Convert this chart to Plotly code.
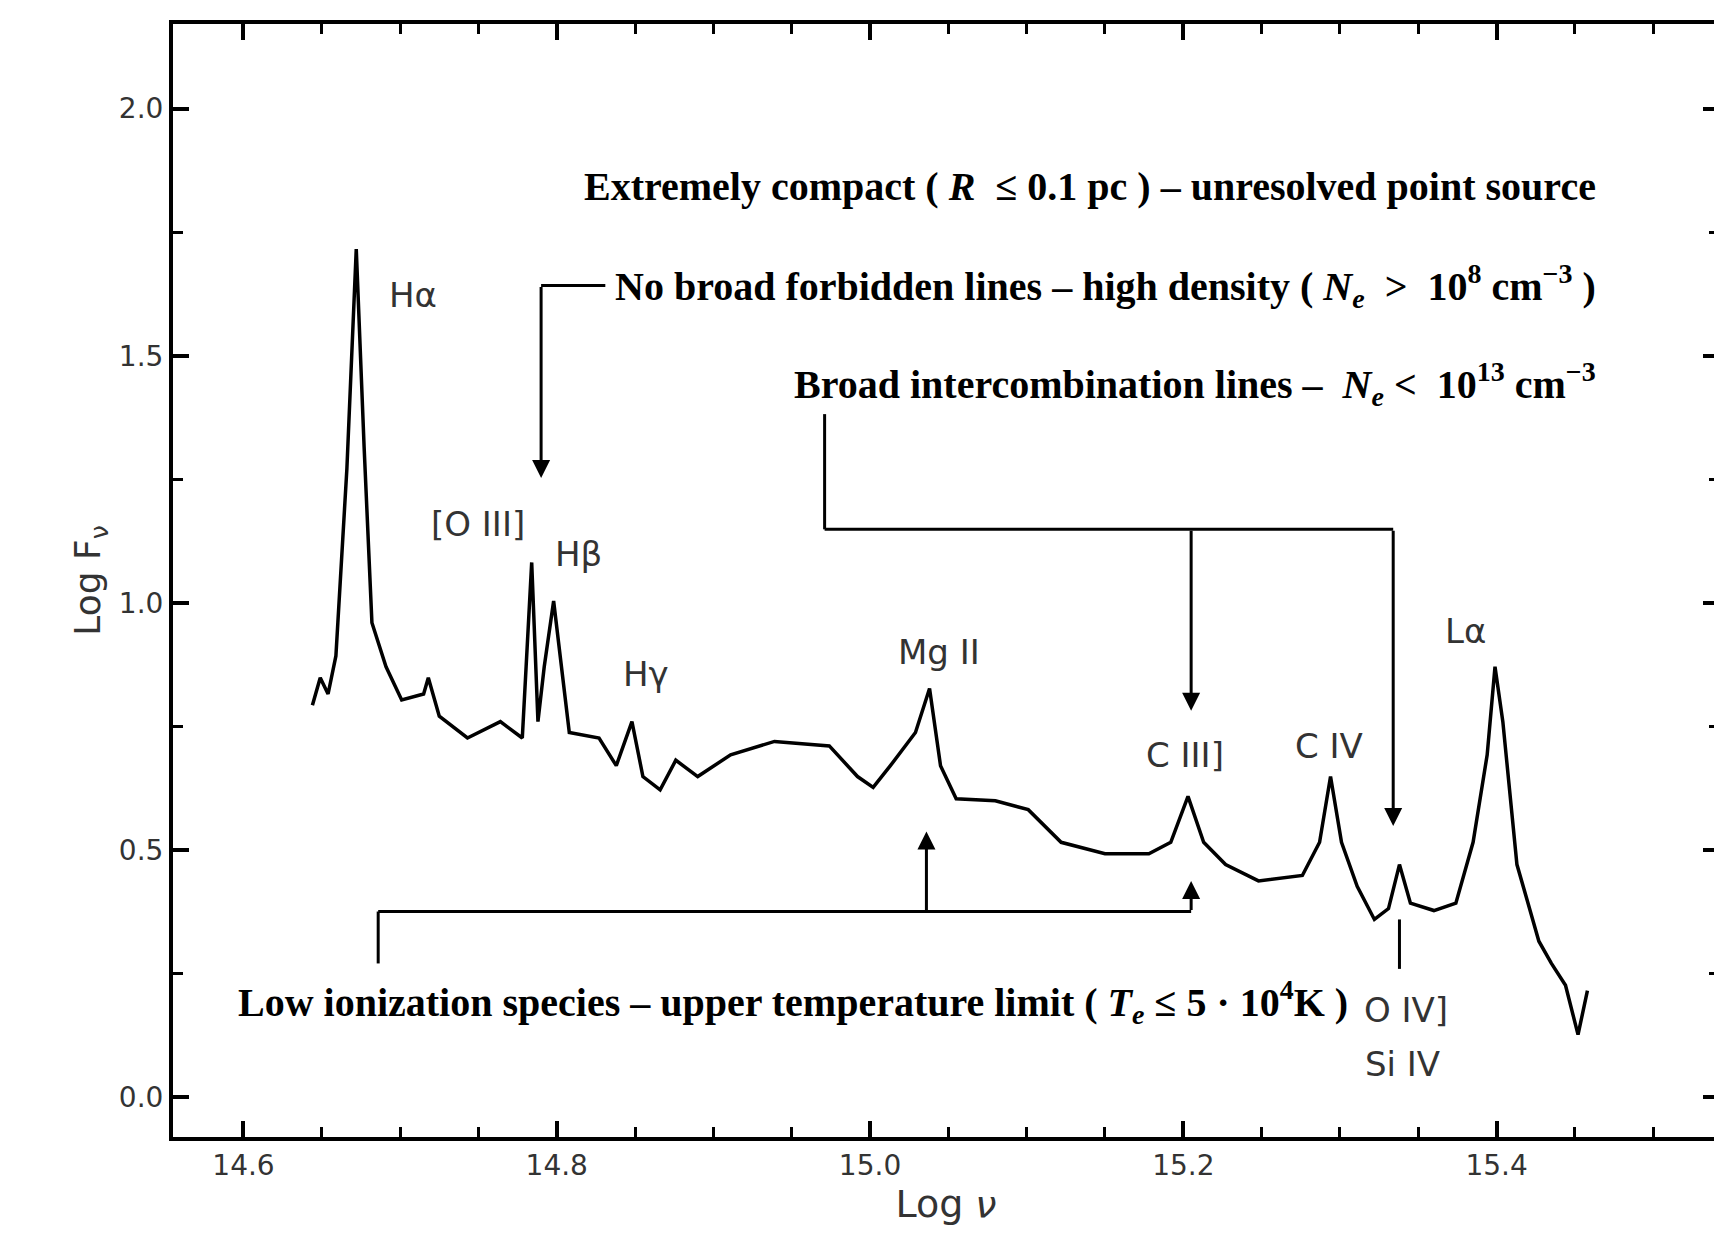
import plotly.graph_objects as go

# spectrum
log_nu = [14.644, 14.649, 14.654, 14.659, 14.666, 14.672, 14.677, 14.682, 14.691, 14.701,
          14.715, 14.718, 14.725, 14.743, 14.764, 14.778, 14.784, 14.788, 14.792, 14.798,
          14.803, 14.808, 14.827, 14.838, 14.848, 14.855, 14.866, 14.876, 14.89, 14.911,
          14.939, 14.974, 14.992, 15.002, 15.013, 15.029, 15.038, 15.045, 15.055, 15.08,
          15.101, 15.122, 15.15, 15.178, 15.192, 15.203, 15.213, 15.227, 15.248, 15.276,
          15.287, 15.294, 15.301, 15.311, 15.322, 15.331, 15.338, 15.345, 15.36, 15.374,
          15.385, 15.394, 15.399, 15.404, 15.413, 15.427, 15.435, 15.444, 15.452, 15.458]
log_f = [0.793, 0.849, 0.816, 0.893, 1.271, 1.716, 1.316, 0.96, 0.871, 0.804,
         0.816, 0.849, 0.771, 0.727, 0.76, 0.727, 1.082, 0.76, 0.871, 1.004,
         0.871, 0.738, 0.727, 0.671, 0.76, 0.649, 0.622, 0.682, 0.649, 0.693,
         0.72, 0.711, 0.649, 0.627, 0.671, 0.738, 0.827, 0.671, 0.604, 0.6,
         0.582, 0.516, 0.493, 0.493, 0.516, 0.609, 0.516, 0.471, 0.438, 0.449,
         0.516, 0.649, 0.516, 0.427, 0.36, 0.382, 0.471, 0.393, 0.378, 0.393,
         0.516, 0.693, 0.871, 0.76, 0.471, 0.316, 0.271, 0.227, 0.127, 0.216]

line_labels = ["Hα", "[O III]", "Hβ", "Hγ", "Mg II", "C III]", "C IV", "Lα", "O IV]", "Si IV"]
label_x = [14.708, 14.75, 14.814, 14.857, 15.044, 15.201, 15.293, 15.38, 15.342, 15.34]
label_y = [1.622, 1.16, 1.1, 0.856, 0.9, 0.693, 0.711, 0.944, 0.176, 0.067]

serif = dict(family="Liberation Serif", size=40, color="black")
sans = dict(family="DejaVu Sans", size=34, color="#333")

fig = go.Figure(go.Scatter(x=log_nu, y=log_f, mode="lines",
                           line=dict(color="black", width=3.5), showlegend=False))

for t, x, y in zip(line_labels, label_x, label_y):
    fig.add_annotation(x=x, y=y, text=t, showarrow=False, font=sans)

notes = [
    (15.465, 1.842, "right", "<b>Extremely compact ( <i>R</i>  ≤ 0.1 pc ) – unresolved point source</b>"),
    (15.465, 1.642, "right", "<b>No broad forbidden lines – high density ( <i>N<sub>e</sub></i>  >  10<sup>8</sup> cm<sup>−3</sup> )</b>"),
    (15.465, 1.442, "right", "<b>Broad intercombination lines –  <i>N<sub>e</sub></i> <  10<sup>13</sup> cm<sup>−3</sup></b>"),
    (14.595, 0.193, "left", "<b>Low ionization species – upper temperature limit ( <i>T<sub>e</sub></i> ≤ 5 · 10<sup>4</sup>K )</b>"),
]
for x, y, a, t in notes:
    fig.add_annotation(x=x, y=y, text=t, xanchor=a, showarrow=False, font=serif)

seg = dict(type="line", line=dict(color="black", width=3), xref="x", yref="y")
segments = [
    (14.831, 1.642, 14.79, 1.642),
    (14.971, 1.382, 14.971, 1.149),
    (14.971, 1.149, 15.334, 1.149),
    (14.686, 0.271, 14.686, 0.376),
    (14.686, 0.376, 15.205, 0.376),
    (15.338, 0.36, 15.338, 0.26),
]
for x0, y0, x1, y1 in segments:
    fig.add_shape(x0=x0, y0=y0, x1=x1, y1=y1, **seg)

arrows = [
    (14.79, 1.642, 14.79, 1.253),
    (15.205, 1.149, 15.205, 0.782),
    (15.334, 1.149, 15.334, 0.549),
    (15.036, 0.376, 15.036, 0.538),
    (15.205, 0.376, 15.205, 0.438),
]
for ax, ay, x, y in arrows:
    fig.add_annotation(x=x, y=y, ax=ax, ay=ay, axref="x", ayref="y", text="",
                       showarrow=True, arrowhead=2, arrowsize=1.2, arrowwidth=3,
                       arrowcolor="black")

axis = dict(showline=True, linewidth=4, linecolor="black", mirror="allticks",
            ticks="inside", ticklen=16, tickwidth=4, tickcolor="black",
            showgrid=False, zeroline=False,
            tickfont=dict(family="DejaVu Sans", size=28, color="#333"))
fig.update_xaxes(range=[14.555, 15.542], tickvals=[14.6, 14.8, 15.0, 15.2, 15.4],
                 ticktext=["14.6", "14.8", "15.0", "15.2", "15.4"],
                 minor=dict(dtick=0.05, tick0=14.6, ticks="inside", ticklen=10,
                            tickwidth=3, tickcolor="black"),
                 title=dict(text="Log <i>ν</i>", font=dict(family="DejaVu Sans", size=38, color="#333"),
                            standoff=5), **axis)
fig.update_yaxes(range=[-0.08, 2.171], tickvals=[0, 0.5, 1.0, 1.5, 2.0],
                 ticktext=["0.0", "0.5", "1.0", "1.5", "2.0"],
                 minor=dict(dtick=0.25, tick0=0, ticks="inside", ticklen=10,
                            tickwidth=3, tickcolor="black"),
                 title=dict(text="Log F<sub>ν</sub>", font=dict(family="DejaVu Sans", size=36, color="#333"),
                            standoff=8), **axis)
fig.update_layout(width=1722, height=1244, plot_bgcolor="white", paper_bgcolor="white",
                  margin=dict(l=165, r=7, t=16, b=115))
fig.write_html("out.html")
